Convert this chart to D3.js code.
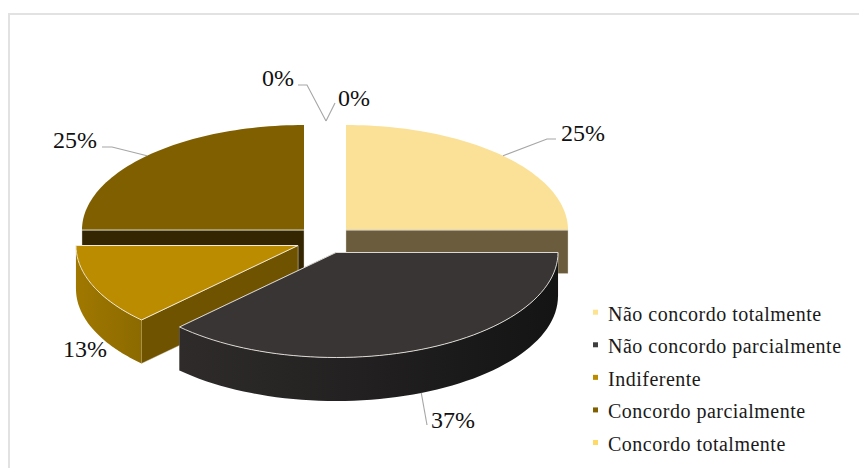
<!DOCTYPE html>
<html><head><meta charset="utf-8">
<script src="https://cdnjs.cloudflare.com/ajax/libs/d3/7.8.5/d3.min.js"></script>
<style>html,body{margin:0;padding:0;background:#fff}svg{display:block}</style>
</head><body><div id="chart"></div>
<script>
const categories = ["Não concordo totalmente","Não concordo parcialmente","Indiferente","Concordo parcialmente","Concordo totalmente"];
const values = [25, 37.45, 12.55, 25, 0, 0];
const labels = ["25%","37%","13%","25%","0%","0%"];
const topColors = ["#fbe197","#3a3535","#bb8c00","#7f5f00","#ffd966","#ffd966"];
const legendColors = ["#fde28f","#3f3f3f","#bb8c00","#7f5f00","#ffd966"];
const cutColors = ["#6a5c3c","#242020","#705300","#332600","#000","#000"];
const sideStart = ["#000","#2f2b2b","#a07800","#000","#000","#000"];
const sideEnd = ["#000","#141414","#8c6a00","#000","#000","#000"];
const topStrokes = ["none","#dcd9d4","#f0e9d6","none","none","none"];

const W=859,H=468,rx=222,ry=105,depth=43.5;
const centres=[[346,230],[336,252.5],[298,245.5],[304,230],[325,230],[325,230]];
const labelLayout=[
 {x:561,y:141,elbow:[[547,139],[556,139]],dz:0},
 {x:431,y:428,elbow:[[427,425]],dz:1},
 {x:63,y:357,elbow:null,dz:1},
 {x:53,y:148,elbow:[[112,147],[102,147]],dz:0},
 {x:262,y:86,elbow:[[307,85],[298,85]],dz:0,apex:[326,121]},
 {x:338,y:106,elbow:[[335,103]],dz:0,apex:[326,121]}
];
const svg=d3.select("#chart").append("svg").attr("width",W).attr("height",H);
svg.append("rect").attr("width",W).attr("height",H).attr("fill","#fff");
svg.append("path").attr("d",`M9,${H} V14 H${W}`).attr("fill","none").attr("stroke","#e2e2e2").attr("stroke-width",2);

const arcs=d3.pie().sort(null).value(d=>d).startAngle(0).endAngle(2*Math.PI)(values);
const pt=(c,a,dz=0)=>[c[0]+rx*Math.sin(a),c[1]-ry*Math.cos(a)+dz];
const line=d3.line();
const defs=svg.append("defs");
sideStart.forEach((s,i)=>{
  const g=defs.append("linearGradient").attr("id","side"+i);
  g.append("stop").attr("offset",0).attr("stop-color",s);
  g.append("stop").attr("offset",1).attr("stop-color",sideEnd[i]);
});
const edge="#d8d4c8";
function arcPts(c,a0,a1,dz){
  const n=60;return d3.range(n+1).map(k=>pt(c,a0+(a1-a0)*k/n,dz));
}
function drawSlice(i){
  const d=arcs[i],c=centres[i],a0=d.startAngle,a1=d.endAngle;
  if(a1-a0<=0)return;
  const g=svg.append("g");
  [a1,a0].forEach(a=>{
    const p=pt(c,a);
    if(Math.abs(Math.sin(a))<1e-6)return;
    g.append("path").attr("d",line([c,p,[p[0],p[1]+depth],[c[0],c[1]+depth]])+"Z")
      .attr("fill",cutColors[i]).attr("stroke",edge).attr("stroke-width",.8).attr("stroke-opacity",.5);
  });
  const s0=Math.max(a0,Math.PI/2),s1=Math.min(a1,3*Math.PI/2);
  if(s1>s0){
    const up=arcPts(c,s0,s1,0),dn=arcPts(c,s0,s1,depth).reverse();
    g.append("path").attr("d",line(up.concat(dn))+"Z").attr("fill",`url(#side${i})`);
  }
  g.append("path").attr("d",line([c].concat(arcPts(c,a0,a1,0)))+"Z")
    .attr("fill",topColors[i]).attr("stroke",topStrokes[i]).attr("stroke-width",1);
  if(topStrokes[i]==="none"){
    const p=pt(c,a0+Math.PI/2*(Math.abs(Math.sin(a1))>1e-6?1:0));
    g.append("path").attr("d",line([c,p])).attr("stroke",edge).attr("stroke-width",1.2).attr("fill","none");
  }
}
[3,0,2,1].forEach(drawSlice);

arcs.forEach((d,i)=>{
  const L=labelLayout[i],mid=(d.startAngle+d.endAngle)/2;
  if(L.elbow){
    const a=L.apex||pt(centres[i],mid,L.dz?depth:0);
    svg.append("path").attr("d",line([a].concat(L.elbow))).attr("fill","none").attr("stroke","#a6a6a6").attr("stroke-width",1.1);
  }
  svg.append("text").attr("x",L.x).attr("y",L.y).text(labels[i])
    .attr("font-family","'Liberation Serif',serif").attr("font-size",24).attr("fill","#111");
});
const ly=d3.scalePoint().domain(categories).range([320.7,451]);
categories.forEach((c,i)=>{
  svg.append("rect").attr("x",593).attr("y",ly(c)-11).attr("width",5).attr("height",5).attr("fill",legendColors[i]);
  svg.append("text").attr("x",608).attr("y",ly(c)).text(c)
    .attr("font-family","'Liberation Serif',serif").attr("font-size",20).attr("letter-spacing",.5).attr("fill","#1a1a1a");
});
</script></body></html>
